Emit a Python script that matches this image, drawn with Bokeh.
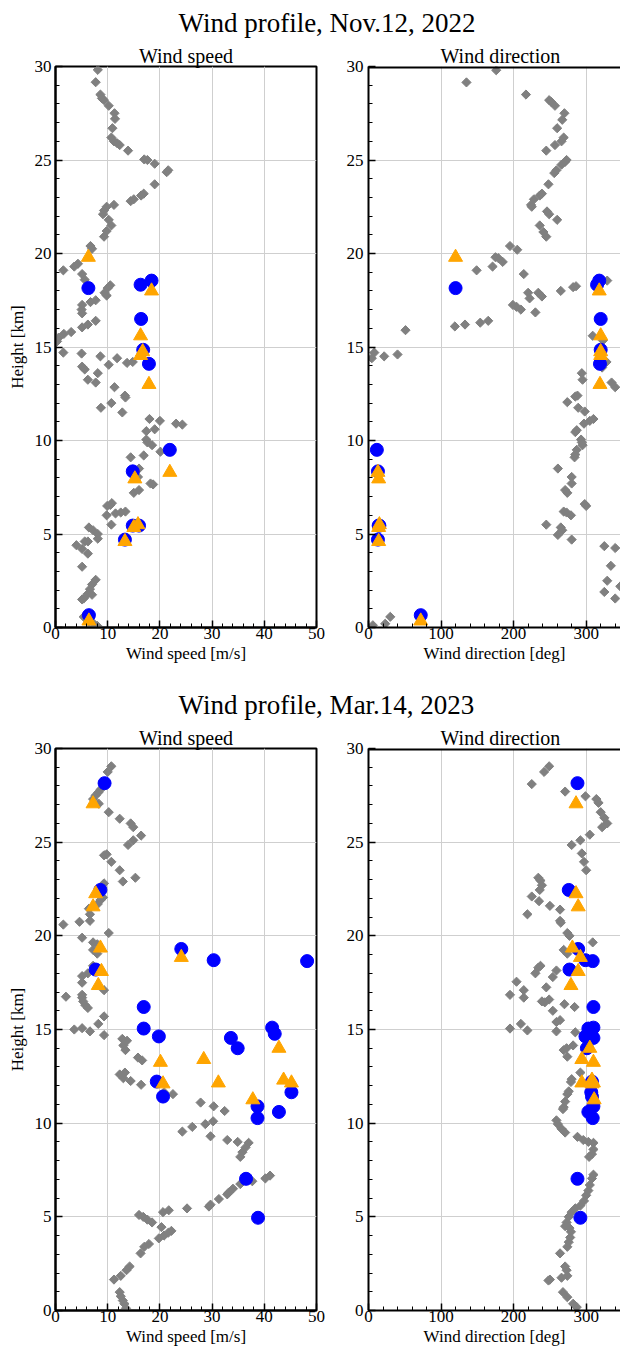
import numpy as np
from bokeh.plotting import figure
from bokeh.layouts import column, row
from bokeh.models import Span, SingleIntervalTicker
from bokeh.embed import file_html
from bokeh.resources import INLINE

FONT = "Liberation Serif"

# ---------------- Data: Nov.12, 2022 ----------------
# gray background profile: (wind speed [m/s], height [km])
nov_speed_bg = [
    (8.1, 29.82), (7.7, 29.16), (8.6, 28.5), (8.9, 28.3), (9.3, 28.2), (10.2, 27.9), (11.3, 27.5),
    (11.4, 27.2), (10.9, 26.7), (10.7, 26.2), (11.2, 26.0), (11.8, 25.9), (12.3, 25.8), (13.9, 25.5),
    (17.0, 25.03), (17.6, 25.0), (19.0, 24.8), (21.6, 24.45), (21.3, 24.35), (19.0, 23.7), (16.9, 23.2),
    (16.4, 23.1), (15.0, 22.9), (14.4, 22.8), (11.2, 22.6), (9.8, 22.5), (9.3, 22.3), (9.1, 22.1),
    (10.2, 21.8), (10.7, 21.5), (9.8, 21.2), (9.3, 20.9), (6.7, 20.4), (7.0, 20.25), (4.3, 19.45),
    (3.6, 19.3), (1.5, 19.1), (5.1, 18.9), (5.6, 18.6), (10.5, 18.3), (10.0, 18.15), (9.4, 17.9),
    (9.8, 17.75), (7.7, 17.5), (6.7, 17.4), (5.1, 17.25), (5.0, 17.0), (5.1, 16.8), (7.7, 16.4),
    (6.2, 16.2), (5.1, 16.05), (3.0, 15.8), (1.6, 15.7), (0.6, 15.5), (0.3, 15.3),
    (1.5, 14.7), (5.0, 14.65), (5.1, 13.95), (5.6, 13.8), (8.6, 14.5), (10.2, 14.05), (11.8, 14.4),
    (13.7, 14.15), (14.8, 14.2), (8.1, 13.6), (6.2, 13.25), (7.7, 13.1), (11.3, 12.85), (13.3, 12.4),
    (13.4, 12.3), (10.7, 12.0), (8.7, 11.75), (12.8, 11.5), (18.0, 11.15), (20.0, 11.05), (23.1, 10.9),
    (24.3, 10.85), (17.4, 10.5), (19.0, 10.6), (17.4, 10.05), (17.6, 9.9), (18.5, 9.75), (20.1, 9.4),
    (16.9, 9.2), (14.4, 9.1), (16.0, 8.5), (15.8, 8.05), (18.2, 7.7), (18.7, 7.65), (16.0, 7.35),
    (15.0, 7.2), (10.5, 6.55), (9.9, 6.5), (10.8, 6.65), (9.8, 6.0), (11.5, 6.1), (12.5, 6.15),
    (13.4, 6.2), (10.7, 5.5), (6.4, 5.35), (7.2, 5.2), (8.1, 5.0), (8.1, 4.75), (4.0, 4.4), (5.1, 4.2),
    (5.6, 4.6), (6.2, 4.6), (6.2, 3.95), (5.1, 3.25), (7.7, 2.55), (7.0, 2.3), (6.6, 2.05), (6.2, 1.8),
    (5.4, 1.55), (5.1, 1.5), (7.0, 1.75), (5.4, 0.57), (7.3, 0.21), (8.0, 0.09), (6.4, 0.3),
]
# gray background profile: (wind direction [deg], height [km])
nov_dir_bg = [
    (176, 29.8), (135, 29.15), (217, 28.5), (249, 28.2), (252, 28.1), (257, 27.9), (270, 27.5),
    (267, 27.15), (260, 26.7), (269, 26.2), (266, 26.0), (257, 25.8), (245, 25.5), (273, 25.0),
    (271, 24.9), (266, 24.75), (259, 24.45), (256, 24.3), (248, 23.7), (239, 23.2), (236, 23.1),
    (228, 22.9), (224, 22.6), (225, 22.5), (246, 22.25), (249, 22.1), (260, 21.8), (236, 21.5),
    (241, 21.15), (245, 20.9), (195, 20.4), (205, 20.2), (175, 19.8), (179, 19.75), (185, 19.55),
    (171, 19.3), (149, 19.1), (214, 18.9), (265, 18.0), (282, 18.2), (286, 18.25), (329, 18.55),
    (220, 17.9), (222, 17.6), (234, 17.9), (239, 17.7), (199, 17.25), (204, 17.15), (210, 17.0),
    (230, 16.85), (165, 16.4), (154, 16.3), (133, 16.2), (119, 16.1), (51, 15.9), (309, 15.6),
    (323, 15.35), (4.6, 14.4), (8, 14.7), (21.6, 14.5), (40, 14.6), (328, 14.2), (335, 13.1),
    (340, 12.85), (294, 13.6), (295, 13.25), (322, 13.9), (274, 12.05), (285, 12.35), (288, 12.4),
    (289, 11.75), (298, 11.55), (310, 11.15), (305, 11.05), (297, 10.9), (287, 10.55), (285, 10.45),
    (293, 10.05), (294, 9.9), (295, 9.75), (287, 9.5), (285, 9.25), (284, 9.1), (261, 8.5),
    (280, 8.05), (280, 7.7), (271, 7.35), (274, 7.2), (298, 6.6), (300, 6.5), (269, 6.2),
    (273, 6.15), (279, 6.0), (245, 5.5), (265, 5.35), (267, 5.2), (261, 4.95), (280, 4.7),
    (325, 4.35), (340, 4.25), (334, 3.3), (329, 2.5), (347, 2.2), (325, 1.9), (340, 1.55),
    (6, 0.12), (23, 0.2), (30, 0.57),
]
# blue circles: (height [km], speed [m/s], direction [deg])
nov_circles = [
    (18.15, 6.3, 120), (18.33, 16.3, 315), (18.55, 18.4, 318), (16.5, 16.4, 320), (14.85, 16.8, 320),
    (14.1, 17.9, 319), (9.5, 21.9, 11.5), (8.35, 14.8, 13), (5.45, 14.8, 14), (5.45, 16.0, 15),
    (4.7, 13.3, 13), (0.66, 6.4, 72),
]
# orange triangles: (height [km], speed [m/s], direction [deg])
nov_triangles = [
    (19.8, 6.3, 120), (18.0, 18.4, 318), (15.6, 16.3, 320), (14.75, 16.7, 320), (14.55, 16.3, 320),
    (13.0, 17.9, 319), (8.3, 21.9, 13), (7.95, 15.2, 14), (5.35, 15.0, 14), (5.5, 15.8, 15),
    (4.6, 13.3, 14), (0.35, 6.4, 72),
]

# ---------------- Data: Mar.14, 2023 ----------------
mar_speed_bg = [
    (10.7, 29.05), (10.0, 28.75), (8.6, 27.8), (8.2, 27.65), (7.7, 27.5), (7.2, 27.3), (8.3, 27.05),
    (10.2, 26.6), (12.3, 26.25), (14.4, 26.0), (14.9, 25.8), (16.4, 25.35), (14.9, 25.1), (13.9, 24.85),
    (9.8, 24.35), (9.3, 24.3), (10.7, 23.95), (12.3, 23.5), (12.9, 22.9), (15.3, 23.1), (9.3, 22.8),
    (8.9, 22.6), (9.1, 22.05), (8.6, 21.9), (8.1, 21.7), (6.4, 21.45), (6.6, 21.15), (6.6, 20.8),
    (4.6, 20.75), (1.5, 20.6), (10.2, 20.15), (5.1, 19.9), (7.2, 19.65), (8.0, 19.55), (7.2, 19.25),
    (8.0, 19.05), (7.2, 18.4), (6.2, 18.0), (5.1, 17.85), (5.1, 17.5), (9.3, 17.1), (5.1, 16.85),
    (2.0, 16.75), (5.1, 16.7), (5.3, 16.5), (5.7, 16.3), (6.2, 16.15), (9.3, 15.7), (8.2, 15.3),
    (5.1, 15.07), (6.6, 14.9), (3.6, 15.0), (9.3, 14.7),
    (12.8, 14.5), (13.7, 14.4), (13.0, 14.15), (13.4, 13.9), (15.8, 13.5), (16.6, 13.35), (12.3, 12.6),
    (13.3, 12.7), (13.0, 12.4), (14.4, 12.25), (16.4, 12.05), (20.8, 11.65), (22.5, 11.55),
    (27.8, 11.1), (30.3, 10.9), (32.4, 10.65), (24.3, 9.55), (26.2, 9.8), (28.7, 9.95), (30.2, 10.1),
    (29.7, 9.3), (32.9, 9.1), (34.9, 9.0), (37.0, 8.95), (36.4, 8.7), (35.8, 8.45), (35.4, 8.2),
    (41.1, 7.2), (40.2, 7.05), (37.7, 6.9), (35.4, 6.75), (34.0, 6.5), (33.2, 6.3), (32.9, 6.2),
    (31.3, 5.95), (29.7, 5.65), (29.4, 5.55), (25.2, 5.45), (21.7, 5.35), (20.6, 5.25), (16.0, 5.1),
    (16.8, 5.0), (17.6, 4.85), (18.5, 4.7), (20.3, 4.45), (22.2, 4.25), (21.6, 4.15), (20.8, 4.0),
    (19.8, 3.85), (17.9, 3.55), (17.0, 3.4), (16.3, 3.05), (14.2, 2.35), (13.6, 2.15), (12.5, 1.85),
    (11.2, 1.65), (12.3, 0.98), (12.5, 0.76), (12.9, 0.53), (13.2, 0.36), (13.5, 0.12),
]
mar_dir_bg = [
    (249, 29.05), (242, 28.75), (225, 28.1), (271, 27.7), (299, 27.45), (314, 27.3), (317, 27.1),
    (320, 26.6), (325, 26.3), (329, 26.0), (322, 25.8), (305, 25.4), (292, 25.1), (280, 24.85),
    (294, 24.4), (297, 23.95), (300, 23.5), (234, 23.1), (237, 22.95), (239, 22.7), (236, 22.45),
    (225, 22.1), (235, 21.85), (250, 21.6), (264, 21.4), (219, 21.15), (264, 20.8), (265, 20.7),
    (274, 20.15), (277, 20.0), (309, 19.65), (269, 19.25), (274, 19.05), (237, 18.4), (234, 18.3),
    (230, 18.0), (259, 18.15), (254, 17.8), (204, 17.55), (214, 17.1), (245, 17.25), (195, 16.85),
    (214, 16.7), (239, 16.5), (243, 16.45), (249, 16.6), (270, 16.35), (284, 16.2), (254, 16.0),
    (264, 15.5), (259, 15.4), (195, 15.05), (210, 15.3), (219, 14.95), (259, 14.9), (285, 14.85),
    (269, 13.9), (273, 14.0), (282, 14.15), (274, 13.55), (292, 12.7), (280, 12.35), (279, 12.2),
    (276, 11.7), (274, 11.55), (271, 11.15), (269, 10.85), (268, 10.75), (259, 10.15), (261, 9.95),
    (266, 9.7), (271, 9.5), (288, 9.27), (296, 9.1), (303, 9.0), (310, 8.95), (310, 8.6), (308, 8.35),
    (304, 8.2), (310, 7.25), (308, 7.05), (305, 6.7), (303, 6.4), (300, 6.15), (297, 5.85),
    (292, 5.6), (285, 5.45), (280, 5.25), (276, 5.0), (273, 4.7), (271, 4.5), (277, 4.4), (279, 4.2),
    (278, 3.9), (276, 3.65), (274, 3.4), (264, 3.05), (271, 2.35), (273, 2.15), (274, 1.85),
    (266, 1.75), (250, 1.65), (248, 1.6), (268, 0.98), (274, 0.71), (282, 0.36), (287, 0.18),
]
mar_circles = [
    (28.15, 9.4, 288), (22.45, 8.6, 276), (18.2, 7.7, 277), (19.3, 24.1, 289), (18.7, 30.3, 299),
    (18.65, 48.2, 309), (16.2, 16.9, 310), (15.05, 16.9, 303), (14.63, 19.8, 299), (14.55, 33.6, 310),
    (14.0, 34.9, 301), (15.1, 41.5, 310), (14.77, 42.0, 307), (12.22, 19.4, 308), (11.42, 20.6, 308),
    (10.9, 38.7, 310), (10.27, 38.7, 309), (10.6, 42.8, 303), (11.65, 45.2, 307), (7.03, 36.5, 288),
    (4.95, 38.8, 292),
]
mar_triangles = [
    (27.05, 7.2, 286), (22.25, 7.7, 286), (21.55, 7.2, 289), (19.35, 8.6, 281), (18.1, 8.8, 289),
    (17.35, 8.2, 279), (18.85, 24.1, 292), (13.25, 20.1, 310), (13.4, 28.4, 294), (14.0, 42.8, 305),
    (12.15, 31.2, 294), (12.1, 20.6, 308), (12.3, 43.7, 308), (12.15, 45.2, 310), (11.25, 37.8, 311),
]

titles = ["Wind profile, Nov.12, 2022", "Wind profile, Mar.14, 2023"]


def cols(pairs):
    return [p[0] for p in pairs], [p[1] for p in pairs]


def title_fig(text, height, top):
    t = figure(width=620, height=height, output_backend="svg", toolbar_location=None,
               x_axis_location=None, y_axis_location=None,
               min_border_left=0, min_border_right=0, min_border_top=top, min_border_bottom=0)
    t.outline_line_color = None
    t.grid.visible = False
    t.title.text = text
    t.title.align = "left"
    t.title.offset = 178
    t.title.text_font = FONT
    t.title.text_font_size = "27px"
    t.title.text_font_style = "normal"
    t.title.text_color = "black"
    t.title.standoff = 0
    return t


def panel(width, height, x_end, x_interval, subtitle, sub_align, sub_offset, xlabel, ylabel,
          bl, br, bt, bb, boxed, bg, circ_x, circ_h, tri_x, tri_h):
    p = figure(width=width, height=height, x_range=(0, x_end), y_range=(0, 30),
               output_backend="svg", toolbar_location=None,
               min_border_left=bl, min_border_right=br, min_border_top=bt, min_border_bottom=bb)
    p.title.text = subtitle
    p.title.align = sub_align
    p.title.offset = sub_offset
    p.title.text_font = FONT
    p.title.text_font_size = "20px"
    p.title.text_font_style = "normal"
    p.title.text_color = "black"
    p.title.standoff = 0

    p.xaxis.ticker = SingleIntervalTicker(interval=x_interval, num_minor_ticks=5)
    p.yaxis.ticker = SingleIntervalTicker(interval=5, num_minor_ticks=5)
    for ax in (p.xaxis[0], p.yaxis[0]):
        ax.axis_line_width = 2
        ax.axis_line_color = "black"
        ax.major_tick_in = 7
        ax.major_tick_out = 0
        ax.minor_tick_in = 4
        ax.minor_tick_out = 0
        ax.major_tick_line_color = "black"
        ax.minor_tick_line_color = "black"
        ax.major_tick_line_width = 1.5
        ax.minor_tick_line_width = 1
        ax.major_label_text_font = FONT
        ax.major_label_text_font_size = "17px"
        ax.major_label_text_color = "black"
        ax.axis_label_text_font = FONT
        ax.axis_label_text_font_size = "17px"
        ax.axis_label_text_font_style = "normal"
        ax.axis_label_text_color = "black"
    p.xaxis.axis_label = xlabel
    p.xaxis.major_label_standoff = 0
    p.xaxis.axis_label_standoff = 2
    p.yaxis.axis_label = ylabel
    p.yaxis.major_label_standoff = 4 if ylabel else 5
    p.yaxis.axis_label_standoff = 5

    p.xgrid.grid_line_color = "#cfcfcf"
    p.ygrid.grid_line_color = "#cfcfcf"
    p.xgrid.grid_line_width = 1
    p.ygrid.grid_line_width = 1

    if boxed:
        p.outline_line_color = "black"
        p.outline_line_width = 2
        p.outline_line_alpha = 1
    else:
        p.outline_line_color = None
        p.add_layout(Span(location=30, dimension="width", line_color="black", line_width=4))

    bx, bh = cols(bg)
    p.scatter(bx, bh, marker="square", angle=np.pi / 4, size=6.5, color="#808080")
    p.scatter(circ_x, circ_h, marker="circle", size=13, color="#0000ff")
    p.scatter(tri_x, tri_h, marker="triangle", size=14, color="#ffa500")
    return p


def make_row(bg_speed, bg_dir, circles, triangles, height, bt, bb):
    ch = [c[0] for c in circles]
    cs = [c[1] for c in circles]
    cd = [c[2] for c in circles]
    th = [t[0] for t in triangles]
    ts = [t[1] for t in triangles]
    td = [t[2] for t in triangles]
    left = panel(335, height, 50, 10, "Wind speed", "center", 0, "Wind speed [m/s]", "Height [km]",
                 55, 19, bt, bb, True, bg_speed, cs, ch, ts, th)
    right = panel(285, height, 347.3, 100, "Wind direction", "left", 72, "Wind direction [deg]", None,
                  33, 0, bt, bb, False, bg_dir, cd, ch, td, th)
    return row(left, right)


t1 = title_fig(titles[0], 42, 37)
r1 = make_row(nov_speed_bg, nov_dir_bg, nov_circles, nov_triangles, 642, 22, 57)
t2 = title_fig(titles[1], 40, 35)
r2 = make_row(mar_speed_bg, mar_dir_bg, mar_circles, mar_triangles, 625, 24, 39)

layout = column(t1, r1, t2, r2)

open("out.html", "w").write(file_html(layout, INLINE))
